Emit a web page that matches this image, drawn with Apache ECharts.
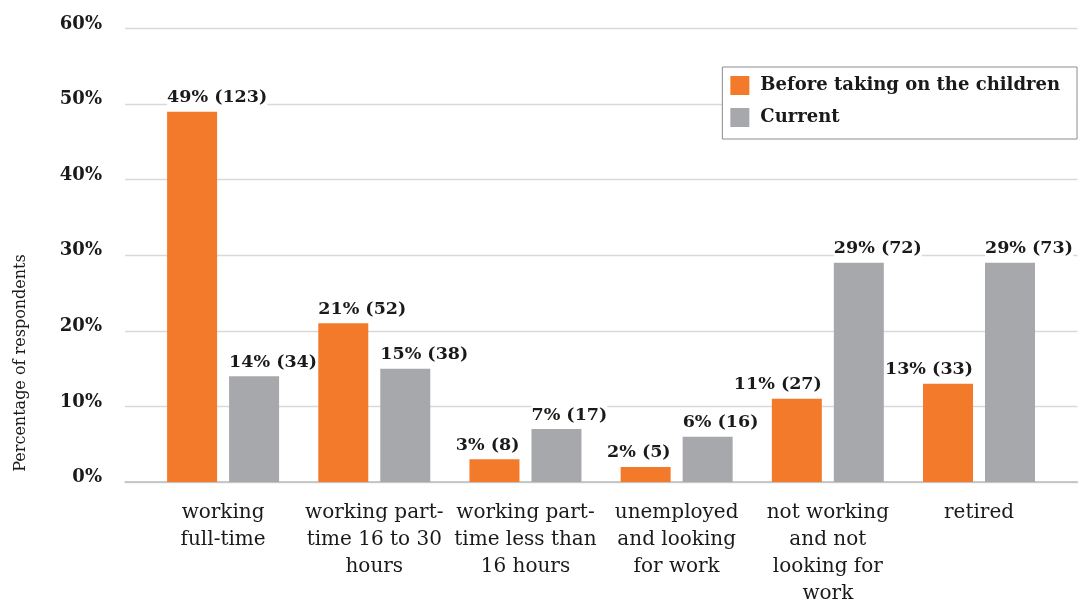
<!DOCTYPE html>
<html>
<head>
<meta charset="utf-8">
<script src="https://cdn.jsdelivr.net/npm/echarts@6/dist/echarts.min.js"></script>
<style>
  html, body { margin: 0; padding: 0; background: #fff; }
  #chart { width: 1088px; height: 601px; }
</style>
</head>
<body>
<div id="chart"></div>
<script>
// chart data
const categories = [
  'working\nfull-time',
  'working part-\ntime 16 to 30\nhours',
  'working part-\ntime less than\n16 hours',
  'unemployed\nand looking\nfor work',
  'not working\nand not\nlooking for\nwork',
  'retired'
];
const seriesNames = ['Before taking on the children', 'Current'];
const beforePct = [49, 21, 3, 2, 11, 13];
const beforeCount = [123, 52, 8, 5, 27, 33];
const currentPct = [14, 15, 7, 6, 29, 29];
const currentCount = [34, 38, 17, 16, 72, 73];
const yTicks = [0, 10, 20, 30, 40, 50, 60];

// Excel put some orange labels to the right edge of the bar, others to the left
const beforeAlign = ['left', 'left', 'right', 'right', 'right', 'right'];

const FONT = 'DejaVu Serif';
const TEXT = '#1a1a1a';
const ORANGE = '#f37a2b';
const GREY = '#a7a8ab';
const BAR_W = 50;

const chart = echarts.init(document.getElementById('chart'));

const labelBase = {
  show: true,
  position: 'top',
  distance: 4,
  fontFamily: FONT,
  fontSize: 17.5,
  fontWeight: 'bold',
  color: TEXT,
  backgroundColor: '#fff',
  padding: [1, 0]
};

const makeData = (pct, count, aligns) => pct.map((v, i) => {
  const align = aligns ? aligns[i] : 'left';
  return {
    value: v,
    label: {
      formatter: v + '% (' + count[i] + ')',
      align: align,
      offset: [align === 'left' ? -BAR_W / 2 : BAR_W / 2, 0]
    }
  };
});

const option = {
  animation: false,
  backgroundColor: '#fff',
  textStyle: { fontFamily: FONT },
  grid: [
    { left: 147.5, right: 33.4, top: 28.5, bottom: 119, containLabel: false, outerBoundsMode: 'none' },
    { left: 125, right: 10.5, top: 28.5, bottom: 119, containLabel: false, outerBoundsMode: 'none' }
  ],
  legend: {
    data: seriesNames,
    orient: 'vertical',
    right: 11,
    top: 67,
    width: 355,
    itemWidth: 19,
    itemHeight: 19,
    itemGap: 13,
    padding: [9, 17, 12, 8],
    borderColor: '#8c8c8c',
    borderWidth: 1,
    backgroundColor: '#fff',
    icon: 'rect',
    textStyle: { fontFamily: FONT, fontSize: 18, fontWeight: 'bold', color: TEXT, padding: [0, 0, 0, 6] }
  },
  xAxis: [
    {
      type: 'category',
      gridIndex: 0,
      data: categories,
      axisLine: { show: false },
      axisTick: { show: false },
      axisLabel: {
        interval: 0,
        margin: 17,
        fontFamily: FONT,
        fontSize: 20,
        lineHeight: 27,
        color: TEXT
      }
    },
    {
      type: 'value',
      gridIndex: 1,
      min: 0,
      max: 1,
      axisLine: { show: true, onZero: false, lineStyle: { color: '#bdbdbd', width: 1.5 } },
      axisTick: { show: false },
      axisLabel: { show: false },
      splitLine: { show: false }
    }
  ],
  yAxis: [
    { type: 'value', gridIndex: 0, min: 0, max: 60, interval: 10, show: false },
    {
      type: 'value',
      gridIndex: 1,
      min: yTicks[0],
      max: yTicks[yTicks.length - 1],
      interval: 10,
      axisLine: { show: false },
      axisTick: { show: false },
      splitLine: { lineStyle: { color: '#d9d9d9', width: 1.3 } },
      axisLabel: {
        margin: 23,
        fontFamily: FONT,
        fontSize: 18,
        fontWeight: 'bold',
        color: TEXT,
        verticalAlign: 'bottom',
        lineHeight: 9,
        formatter: '{value}%'
      }
    }
  ],
  graphic: [
    {
      type: 'text',
      x: 21,
      y: 363,
      rotation: Math.PI / 2,
      style: {
        text: 'Percentage of respondents',
        fontFamily: FONT,
        fontSize: 16,
        fill: TEXT,
        align: 'center',
        verticalAlign: 'middle'
      }
    }
  ],
  series: [
    {
      name: seriesNames[0],
      type: 'bar',
      xAxisIndex: 0,
      yAxisIndex: 0,
      barWidth: BAR_W,
      barGap: '24%',
      itemStyle: { color: ORANGE },
      label: labelBase,
      data: makeData(beforePct, beforeCount, beforeAlign)
    },
    {
      name: seriesNames[1],
      type: 'bar',
      xAxisIndex: 0,
      yAxisIndex: 0,
      barWidth: BAR_W,
      barGap: '24%',
      itemStyle: { color: GREY },
      label: labelBase,
      data: makeData(currentPct, currentCount)
    }
  ]
};

chart.setOption(option);
</script>
</body>
</html>
